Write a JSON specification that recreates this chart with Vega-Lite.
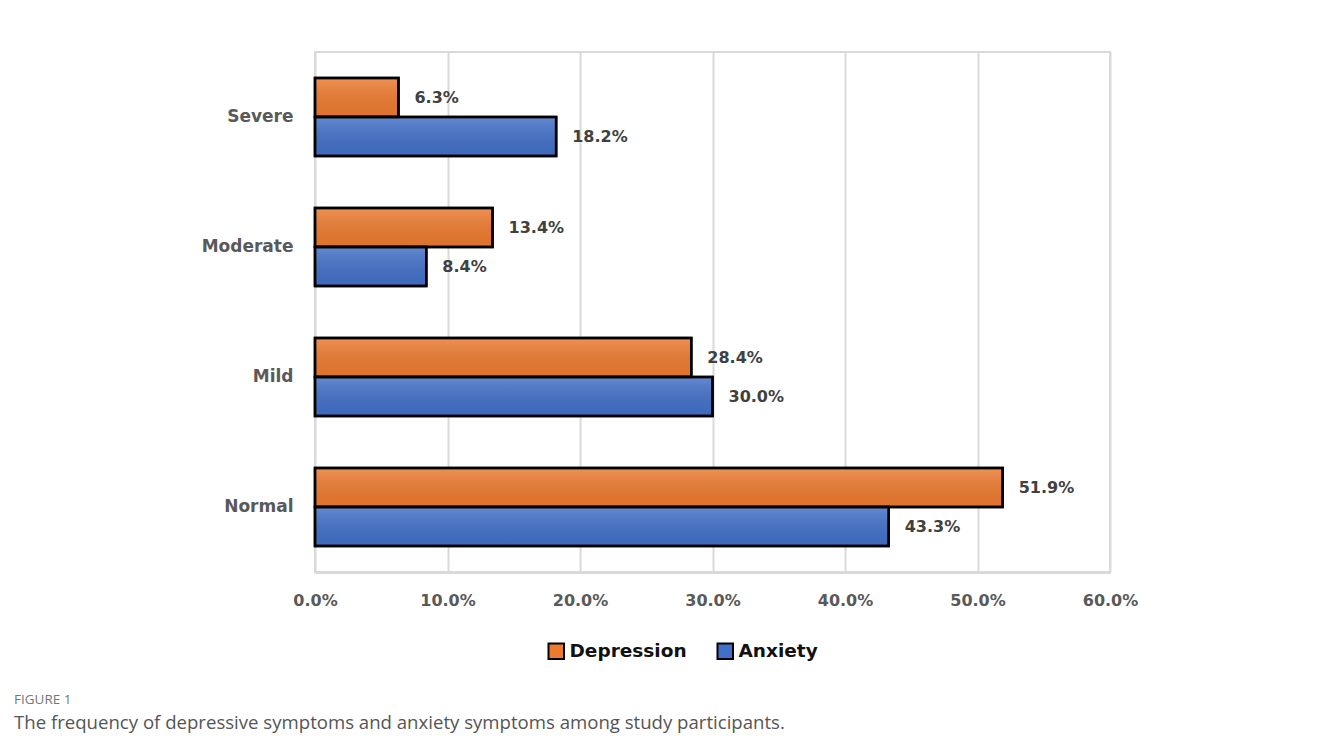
{
  "$schema": "https://vega.github.io/schema/vega-lite/v6.json",
  "width": 795,
  "height": 520,
  "autosize": {"type": "none"},
  "padding": {"left": 315, "top": 52, "right": 209, "bottom": 177},
  "background": "white",
  "data": {
    "values": [
      {"level": "Severe", "group": "Depression", "pct": 0.063},
      {"level": "Severe", "group": "Anxiety", "pct": 0.182},
      {"level": "Moderate", "group": "Depression", "pct": 0.134},
      {"level": "Moderate", "group": "Anxiety", "pct": 0.084},
      {"level": "Mild", "group": "Depression", "pct": 0.284},
      {"level": "Mild", "group": "Anxiety", "pct": 0.300},
      {"level": "Normal", "group": "Depression", "pct": 0.519},
      {"level": "Normal", "group": "Anxiety", "pct": 0.433}
    ]
  },
  "title": {
    "text": "FIGURE 1",
    "subtitle": "The frequency of depressive symptoms and anxiety symptoms among study participants.",
    "orient": "bottom",
    "anchor": "start",
    "frame": "group",
    "dx": -301,
    "offset": 30,
    "font": "Open Sans",
    "fontSize": 13.5,
    "fontWeight": "normal",
    "color": "#777777",
    "subtitleFont": "Open Sans",
    "subtitleFontSize": 18.6,
    "subtitleColor": "#555555",
    "subtitlePadding": 7
  },
  "encoding": {
    "y": {
      "field": "level",
      "type": "nominal",
      "sort": ["Severe", "Moderate", "Mild", "Normal"],
      "scale": {"paddingInner": 0.4, "paddingOuter": 0.2},
      "axis": {
        "title": null,
        "ticks": false,
        "domain": false,
        "labelFont": "DejaVu Sans",
        "labelFontWeight": "bold",
        "labelFontSize": 17,
        "labelColor": "#595959",
        "labelPadding": 22
      }
    },
    "yOffset": {
      "field": "group",
      "type": "nominal",
      "sort": ["Depression", "Anxiety"]
    },
    "x": {
      "field": "pct",
      "type": "quantitative",
      "scale": {"domain": [0, 0.6]},
      "axis": {
        "title": null,
        "values": [0, 0.1, 0.2, 0.3, 0.4, 0.5, 0.6],
        "format": ".1%",
        "labelFlush": false,
        "labelOverlap": false,
        "ticks": false,
        "domainColor": "#D9D9D9",
        "domainWidth": 3,
        "gridColor": "#D9D9D9",
        "gridWidth": 2,
        "labelFont": "DejaVu Sans",
        "labelFontWeight": "bold",
        "labelFontSize": 16,
        "labelColor": "#595959",
        "labelPadding": 20
      }
    }
  },
  "layer": [
    {
      "mark": {"type": "bar", "stroke": "#000000", "strokeWidth": 2.5},
      "encoding": {
        "color": {
          "field": "group",
          "type": "nominal",
          "sort": ["Depression", "Anxiety"],
          "scale": {"domain": ["Depression", "Anxiety"], "range": ["#EC7A2F", "#4270C8"]},
          "legend": {
            "title": null,
            "orient": "none",
            "direction": "horizontal",
            "legendX": 232,
            "legendY": 590,
            "symbolType": "square",
            "symbolSize": 240,
            "symbolStrokeColor": "#000000",
            "symbolStrokeWidth": 2,
            "symbolOpacity": 1,
            "labelFont": "DejaVu Sans",
            "labelFontWeight": "bold",
            "labelFontSize": 18.5,
            "labelColor": "#111111",
            "labelOffset": 4,
            "columnPadding": 26
          }
        }
      }
    },
    {
      "mark": {
        "type": "bar",
        "fill": {
          "x1": 0, "y1": 0, "x2": 0, "y2": 1,
          "gradient": "linear",
          "stops": [
            {"offset": 0, "color": "rgba(255,255,255,0.18)"},
            {"offset": 1, "color": "rgba(0,0,0,0.05)"}
          ]
        },
        "stroke": "#000000",
        "strokeWidth": 2.5
      }
    },
    {
      "mark": {
        "type": "text",
        "align": "left",
        "baseline": "middle",
        "dx": 16,
        "font": "DejaVu Sans",
        "fontWeight": "bold",
        "fontSize": 16,
        "color": "#404040"
      },
      "encoding": {
        "text": {"field": "pct", "type": "quantitative", "format": ".1%"}
      }
    }
  ],
  "config": {
    "view": {"stroke": "#D9D9D9", "strokeWidth": 2}
  }
}
